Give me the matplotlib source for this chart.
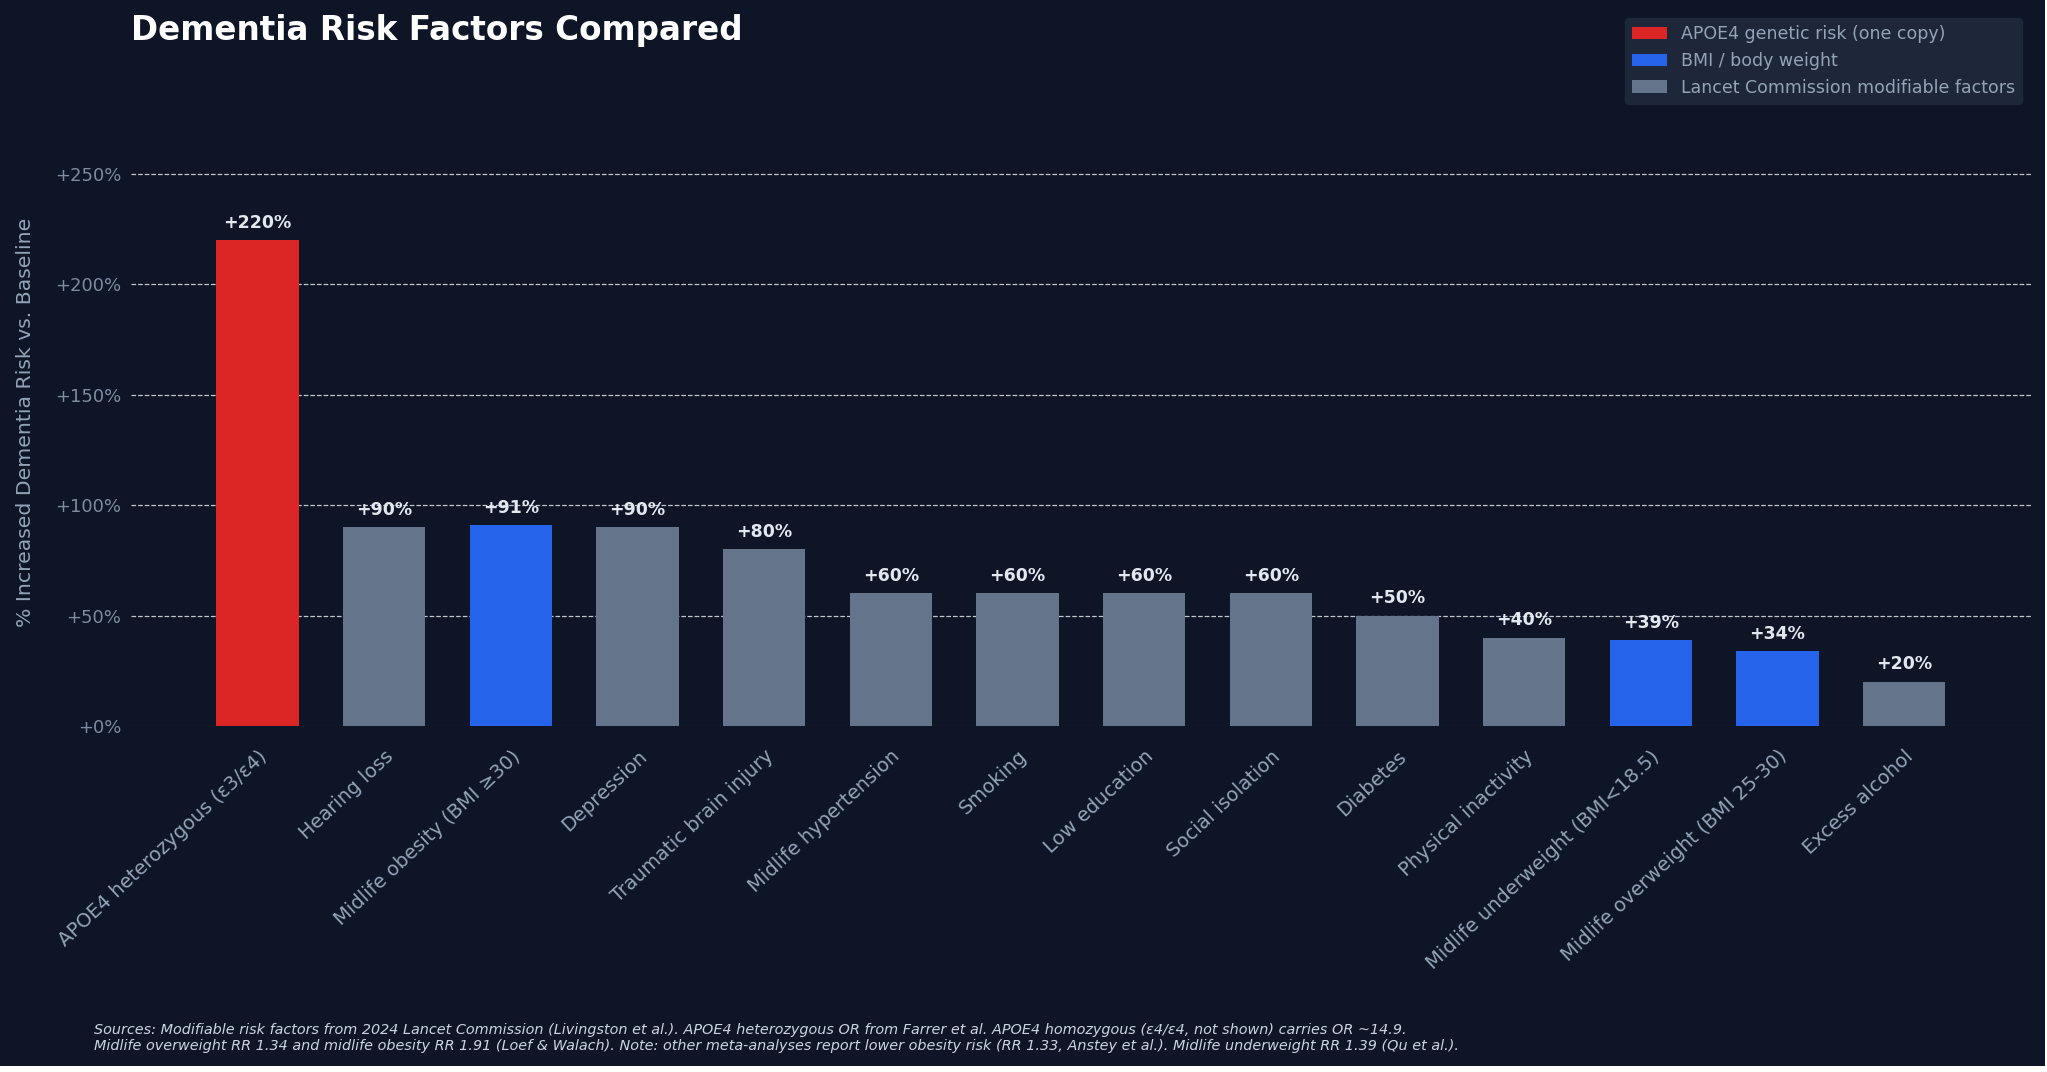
import matplotlib
matplotlib.use("Agg")
import matplotlib.pyplot as plt
from matplotlib.patches import Patch, Rectangle

bg = "#0d1526"
muted = "#94a3b8"

categories = [
    "APOE4 heterozygous (ε3/ε4)", "Hearing loss", "Midlife obesity (BMI ≥30)",
    "Depression", "Traumatic brain injury", "Midlife hypertension", "Smoking",
    "Low education", "Social isolation", "Diabetes", "Physical inactivity",
    "Midlife underweight (BMI<18.5)", "Midlife overweight (BMI 25-30)",
    "Excess alcohol",
]
risk_pct = [220, 90, 91, 90, 80, 60, 60, 60, 60, 50, 40, 39, 34, 20]
groups = ["apoe", "lancet", "bmi", "lancet", "lancet", "lancet", "lancet",
          "lancet", "lancet", "lancet", "lancet", "bmi", "bmi", "lancet"]
yticks = [0, 50, 100, 150, 200, 250]

group_colors = {"apoe": "#dc2626", "bmi": "#2563eb", "lancet": "#64748b"}
group_labels = {"apoe": "APOE4 genetic risk (one copy)",
                "bmi": "BMI / body weight",
                "lancet": "Lancet Commission modifiable factors"}

fig = plt.figure(figsize=(20.47, 10.72), dpi=100)
fig.patch.set_facecolor("white")
# dark canvas (the saved image has a thin light edge at bottom/right)
fig.patches.append(Rectangle((0, 6 / 1072), 2045 / 2047, 1, transform=fig.transFigure,
                             facecolor=bg, edgecolor="none", zorder=-10))

ax = fig.add_axes([0.064, 0.3228, 0.928, 0.5664])
ax.set_facecolor(bg)

x = list(range(len(categories)))
colors = [group_colors[g] for g in groups]
bars = ax.bar(x, risk_pct, width=0.65, color=colors, zorder=2)

for rect, v in zip(bars, risk_pct):
    ax.annotate(f"+{v}%", (rect.get_x() + rect.get_width() / 2, v),
                xytext=(0, 6), textcoords="offset points",
                ha="center", va="bottom", fontsize=12.5, fontweight="bold",
                color="#e2e8f0", zorder=4)

ax.set_xlim(-1, len(categories))
ax.set_ylim(0, 275)
ax.set_yticks(yticks)
ax.set_yticklabels([f"+{t}%" for t in yticks])
ax.set_xticks(x)
ax.set_xticklabels(categories, rotation=43, ha="right", rotation_mode="anchor")

ax.tick_params(axis="both", length=0, colors=muted)
ax.tick_params(axis="y", pad=7, labelcolor="#7f8ba0", labelsize=13)
ax.tick_params(axis="x", pad=15, labelsize=14)

ax.set_axisbelow(True)
for t in yticks[1:]:
    ax.axhline(t, color="#e2e8f0", linestyle="--", linewidth=0.9, alpha=0.85, zorder=1)
ax.axhline(0, color="#475569", linestyle="--", linewidth=0.8, zorder=1)

for s in ax.spines.values():
    s.set_visible(False)

ax.set_ylabel("% Increased Dementia Risk vs. Baseline", fontsize=14.7, color=muted, labelpad=14)

fig.text(0.064, 0.987, "Dementia Risk Factors Compared", fontsize=23.5,
         fontweight="bold", color="white", ha="left", va="top")

handles = [Patch(facecolor=group_colors[k], label=group_labels[k])
           for k in ["apoe", "bmi", "lancet"]]
leg = fig.legend(handles=handles, loc="upper right", bbox_to_anchor=(0.992, 0.991),
                 fontsize=12.5, frameon=True, facecolor="#1e293b", edgecolor="#1e293b",
                 framealpha=0.95, labelcolor=muted)

note = ("Sources: Modifiable risk factors from 2024 Lancet Commission (Livingston et al.). "
        "APOE4 heterozygous OR from Farrer et al. APOE4 homozygous (ε4/ε4, not shown) carries OR ~14.9.\n"
        "Midlife overweight RR 1.34 and midlife obesity RR 1.91 (Loef & Walach). Note: other "
        "meta-analyses report lower obesity risk (RR 1.33, Anstey et al.). Midlife underweight RR 1.39 (Qu et al.).")
fig.text(0.046, 0.018, note, fontsize=10.35, style="italic", color="#cbd5e1",
         ha="left", va="bottom", linespacing=1.2)

fig.savefig("out.png", dpi=100, facecolor=fig.get_facecolor())
